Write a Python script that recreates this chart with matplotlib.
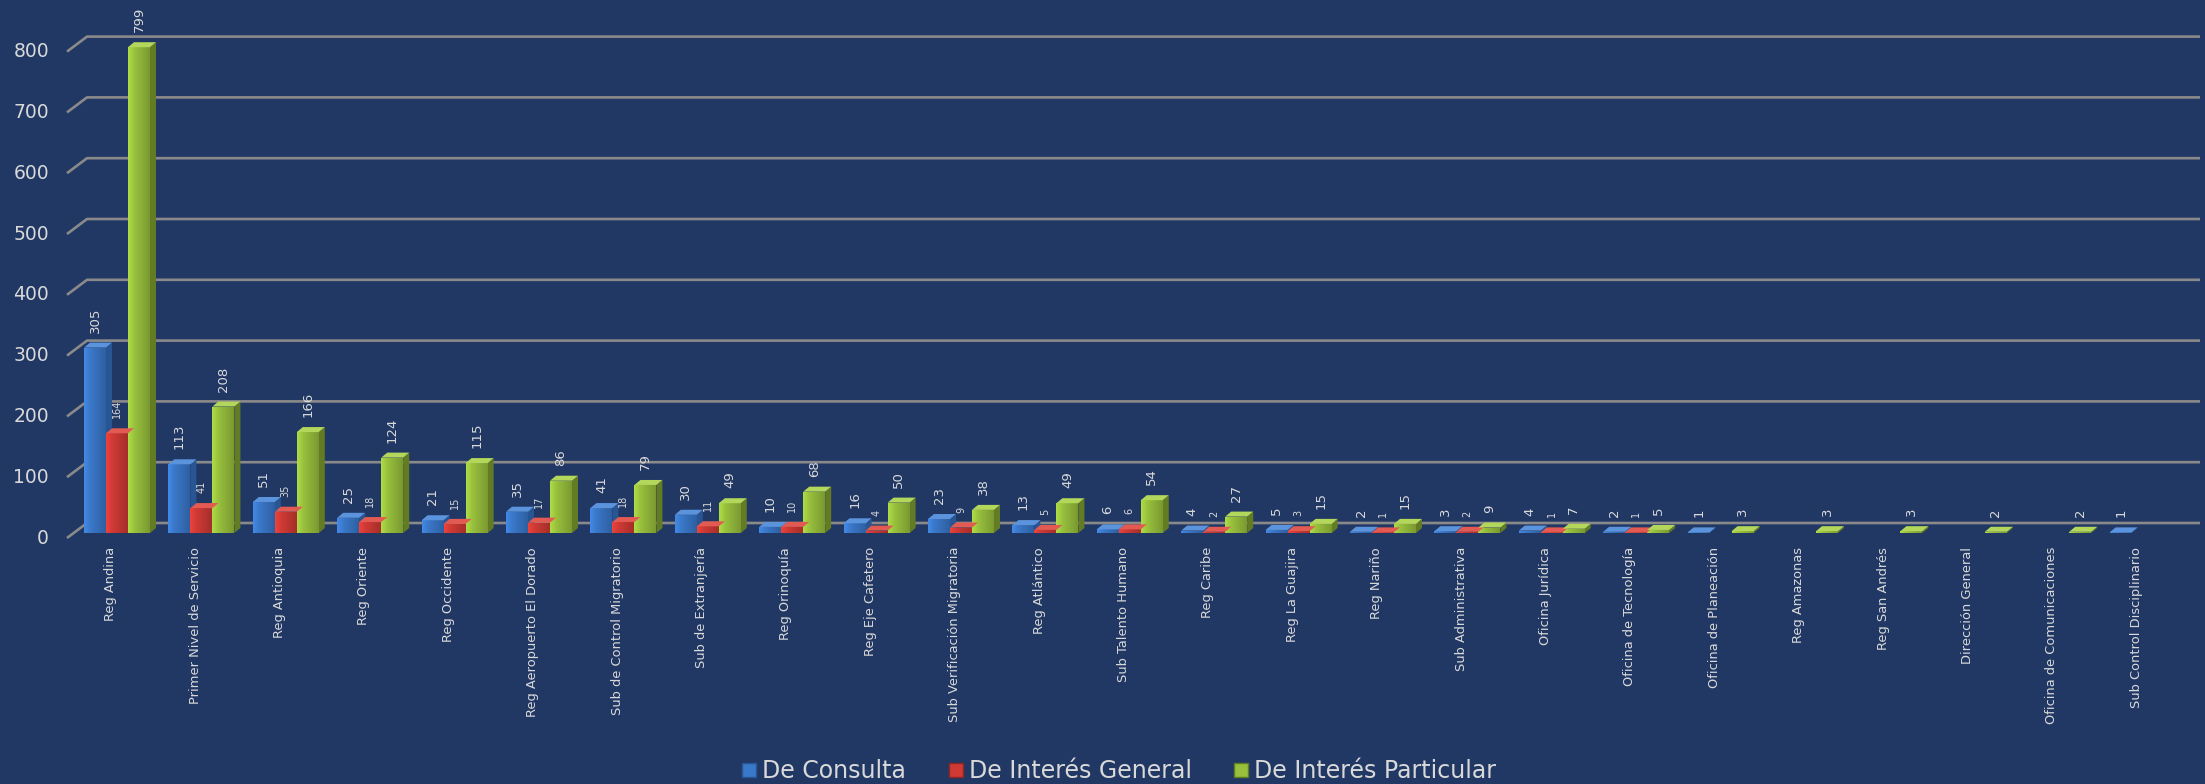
import matplotlib
matplotlib.use("Agg")
import matplotlib.pyplot as plt
import numpy as np
from matplotlib.patches import Polygon, Rectangle
from matplotlib.lines import Line2D

# datos
categorias = ["Reg Andina", "Primer Nivel de Servicio", "Reg Antioquia", "Reg Oriente",
              "Reg Occidente", "Reg Aeropuerto El Dorado", "Sub de Control Migratorio",
              "Sub de Extranjería", "Reg Orinoquía", "Reg Eje Cafetero",
              "Sub Verificación Migratoria", "Reg Atlántico", "Sub Talento Humano",
              "Reg Caribe", "Reg La Guajira", "Reg Nariño", "Sub Administrativa",
              "Oficina Jurídica", "Oficina de Tecnología", "Oficina de Planeación",
              "Reg Amazonas", "Reg San Andrés", "Dirección General",
              "Oficina de Comunicaciones", "Sub Control Disciplinario"]
consulta = [305, 113, 51, 25, 21, 35, 41, 30, 10, 16, 23, 13, 6, 4, 5, 2, 3, 4, 2, 1, 0, 0, 0, 0, 1]
general = [164, 41, 35, 18, 15, 17, 18, 11, 10, 4, 9, 5, 6, 2, 3, 1, 2, 1, 1, 0, 0, 0, 0, 0, 0]
particular = [799, 208, 166, 124, 115, 86, 79, 49, 68, 50, 38, 49, 54, 27, 15, 15, 9, 7, 5, 3, 3, 3, 2, 2, 0]
series = ["De Consulta", "De Interés General", "De Interés Particular"]
y_ticks = [0, 100, 200, 300, 400, 500, 600, 700, 800]

fondo = "#213865"
texto = "#d9d9d9"
frente = ["#3a78c9", "#cf3a35", "#98c03d"]
lado = ["#285593", "#8e2522", "#637c24"]
tapa = ["#5b94dd", "#e25a52", "#b3d75a"]

W, H = 2205, 784
fig = plt.figure(figsize=(W / 100, H / 100), dpi=100, facecolor=fondo)

# geometria en pixeles
x0_px, paso = 117, 84.4      # centro del primer grupo y separacion
y0_px, ppy = 251, 0.608      # base (desde abajo) y pixeles por unidad
xmin, xmax = -0.513, 24.53
ymax = 820
ax = fig.add_axes([(x0_px + xmin * paso) / W, y0_px / H,
                   (xmax - xmin) * paso / W, ymax * ppy / H])
ax.set_xlim(xmin, xmax)
ax.set_ylim(0, ymax)
ax.axis("off")

px_x = lambda p: p / paso
px_y = lambda p: p / ppy

# lineas de cuadricula (pared del fondo + diagonal)
for v in y_ticks:
    xf, yf = px_x(-50), v - px_y(5)
    xb, yb = px_x(-30), v + px_y(10)
    xr = px_x(2200 - x0_px)
    ax.plot([xf, xb, xr], [yf, yb, yb], color="#8a8a8a", lw=1.9,
            clip_on=False, zorder=1, solid_capstyle="butt")
    ax.text(px_x(49 - x0_px), yf, str(v), ha="right", va="center",
            fontsize=13.5, color=texto, clip_on=False)

# barras 3D
w = px_x(22)
ddx, ddy = px_x(6), px_y(5)
grad = np.linspace(0, 1, 64)
for k, valores in enumerate([consulta, general, particular]):
    c0 = np.array(matplotlib.colors.to_rgb(frente[k]))
    luz = np.clip(c0 * 1.15, 0, 1)
    som = c0 * 0.8
    img = np.zeros((1, 64, 3))
    for j, g in enumerate(grad):
        if g < 0.3:
            img[0, j] = luz + (c0 - luz) * (g / 0.3)
        else:
            img[0, j] = c0 + (som - c0) * ((g - 0.3) / 0.7)
    for i, v in enumerate(valores):
        if v == 0:
            continue
        left = i - px_x(33) + k * w
        rect = Rectangle((left, 0), w, v, facecolor=frente[k], edgecolor="none",
                         zorder=3, clip_on=False)
        ax.add_patch(rect)
        im = ax.imshow(img, extent=(left, left + w, 0, v), aspect="auto",
                       zorder=3.1, interpolation="bilinear")
        im.set_clip_path(rect)
        ax.add_patch(Polygon([(left + w, 0), (left + w + ddx, ddy),
                              (left + w + ddx, v + ddy), (left + w, v)],
                             closed=True, facecolor=lado[k], edgecolor="none",
                             zorder=3, clip_on=False))
        ax.add_patch(Polygon([(left, v), (left + w, v), (left + w + ddx, v + ddy),
                              (left + ddx, v + ddy)],
                             closed=True, facecolor=tapa[k], edgecolor="none",
                             zorder=3.2, clip_on=False))
        ax.text(left + w / 2, v + px_y(15), str(v), rotation=90, ha="center",
                va="bottom", fontsize=7 if k == 1 else 9.5, color=texto,
                clip_on=False, zorder=4)

ax.set_xlim(xmin, xmax)
ax.set_ylim(0, ymax)

# etiquetas de categorias
for i, nombre in enumerate(categorias):
    ax.text(i - px_x(6.3), -px_y(14), nombre, rotation=90, ha="center", va="top",
            fontsize=9.4, color=texto, clip_on=False)

# leyenda
manijas = [Line2D([], [], marker="s", ls="none", markersize=9.5,
                  markerfacecolor=frente[k], markeredgecolor=lado[k]) for k in range(3)]
fig.legend(manijas, series, loc="center", bbox_to_anchor=(0.5075, 13 / H),
           ncol=3, frameon=False, fontsize=17, labelcolor=texto,
           handlelength=0.6, handletextpad=0.25, columnspacing=1.8,
           borderpad=0, borderaxespad=0)

fig.savefig("out.png", dpi=100, facecolor=fondo)
